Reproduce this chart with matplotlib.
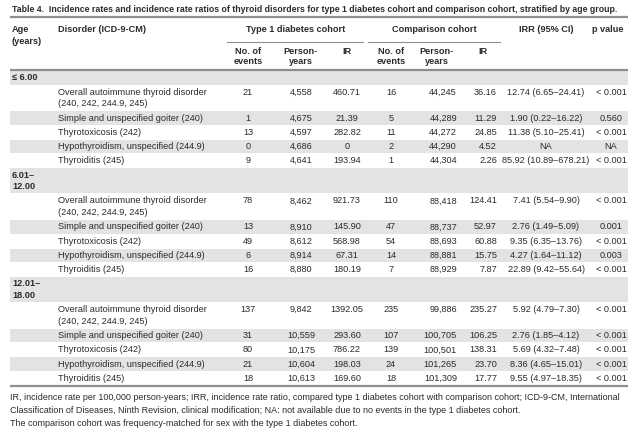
import matplotlib
matplotlib.use("Agg")
import matplotlib.pyplot as plt
from matplotlib.patches import Rectangle

INK = "#2b2b2b"; SHADE = "#e3e3e3"; RULE = "#8e8e8e"
FONT = "Liberation Sans"

age_groups = [["\u2264 6.00"], ["6.01\u2013", "12.00"], ["12.01\u2013", "18.00"]]
disorders = [["Overall autoimmune thyroid disorder", "(240, 242, 244.9, 245)"],
             ["Simple and unspecified goiter (240)"],
             ["Thyrotoxicosis (242)"],
             ["Hypothyroidism, unspecified (244.9)"],
             ["Thyroiditis (245)"]]

# type 1 diabetes cohort
t1_events = [[21, 1, 13, 0, 9], [78, 13, 49, 6, 16], [137, 31, 80, 21, 18]]
t1_py = [[4558, 4675, 4597, 4686, 4641], [8462, 8910, 8612, 8914, 8880],
         [9842, 10559, 10175, 10604, 10613]]
t1_ir = [[460.71, 21.39, 282.82, 0, 193.94], [921.73, 145.90, 568.98, 67.31, 180.19],
         [1392.05, 293.60, 786.22, 198.03, 169.60]]
# comparison cohort
cc_events = [[16, 5, 11, 2, 1], [110, 47, 54, 14, 7], [235, 107, 139, 24, 18]]
cc_py = [[44245, 44289, 44272, 44290, 44304], [88418, 88737, 88693, 88881, 88929],
         [99886, 100705, 100501, 101265, 101309]]
cc_ir = [[36.16, 11.29, 24.85, 4.52, 2.26], [124.41, 52.97, 60.88, 15.75, 7.87],
         [235.27, 106.25, 138.31, 23.70, 17.77]]
irr = [[(12.74, 6.65, 24.41), (1.90, 0.22, 16.22), (11.38, 5.10, 25.41), None, (85.92, 10.89, 678.21)],
       [(7.41, 5.54, 9.90), (2.76, 1.49, 5.09), (9.35, 6.35, 13.76), (4.27, 1.64, 11.12), (22.89, 9.42, 55.64)],
       [(5.92, 4.79, 7.30), (2.76, 1.85, 4.12), (5.69, 4.32, 7.48), (8.36, 4.65, 15.01), (9.55, 4.97, 18.35)]]
pvals = [["< 0.001", "0.560", "< 0.001", "NA", "< 0.001"],
         ["< 0.001", "0.001", "< 0.001", "0.003", "< 0.001"],
         ["< 0.001", "< 0.001", "< 0.001", "< 0.001", "< 0.001"]]

title = ("Table 4.  Incidence rates and incidence rate ratios of thyroid disorders for type 1 diabetes "
         "cohort and comparison cohort, stratified by age group.")
notes = ["IR, incidence rate per 100,000 person-years; IRR, incidence rate ratio, compared type 1 diabetes "
         "cohort with comparison cohort; ICD-9-CM, International",
         "Classification of Diseases, Ninth Revision, clinical modification; NA: not available due to no "
         "events in the type 1 diabetes cohort.",
         "The comparison cohort was frequency-matched for sex with the type 1 diabetes cohort."]

fig = plt.figure(figsize=(6.34, 4.29), dpi=100)
ax = fig.add_axes([0, 0, 1, 1]); ax.axis("off")
ax.set_xlim(0, 634); ax.set_ylim(429, 0)
FS = 6.6

def t(x, y, s, ha="center", bold=False, size=FS, color=INK):
    ax.text(x, y, s, ha=ha, va="center", fontsize=size, color=color, family=FONT,
            fontweight="bold" if bold else "normal")

L, R = 10, 628
t(12, 9.5, title, ha="left", bold=True, size=6.35)
ax.plot([L, R], [16.5, 16.5], color=RULE, lw=1.6, solid_capstyle="butt")

# header
t(12, 29, "Age", ha="left", bold=True); t(12, 41, "(years)", ha="left", bold=True)
t(58, 29, "Disorder (ICD-9-CM)", ha="left", bold=True)
t(296, 29, "Type 1 diabetes cohort", bold=True)
t(434, 29, "Comparison cohort", bold=True)
t(546, 29, "IRR (95% CI)", bold=True)
t(608, 29, "p value", bold=True)
ax.plot([227, 363], [42, 42], color=RULE, lw=0.8)
ax.plot([368, 500], [42, 42], color=RULE, lw=0.8)
X_E1, X_P1, X_I1, X_E2, X_P2, X_I2, X_RR, X_PV = 248, 301, 347, 391, 457, 497, 546, 611
for xe, xp in [(X_E1, X_P1), (X_E2, 437)]:
    t(xe, 51, "No. of", bold=True); t(xe, 62, "events", bold=True)
    t(xp, 51, "Person-", bold=True); t(xp, 62, "years", bold=True)
t(X_I1, 51, "IR", bold=True); t(483, 51, "IR", bold=True)
ax.plot([L, R], [70, 70], color=RULE, lw=1.6, solid_capstyle="butt")

h1, h2 = 14.2, 26.0
y = 70.8
for g, age in enumerate(age_groups):
    hh = h1 if len(age) == 1 else h2
    ax.add_patch(Rectangle((L, y + 0.4), R - L, hh - 0.8, color=SHADE, lw=0))
    for k, s in enumerate(age):
        t(12, y + hh / 2 + (k - (len(age) - 1) / 2) * 11.5, s, ha="left", bold=True)
    y += hh
    for i, dis in enumerate(disorders):
        hh = h1 if len(dis) == 1 else h2
        if i in (1, 3):
            ax.add_patch(Rectangle((L, y + 0.4), R - L, hh - 0.8, color=SHADE, lw=0))
        ty = y + (7.2 if len(dis) == 2 else hh / 2)
        for k, s in enumerate(dis):
            t(58, ty + k * 11.5, s, ha="left")
        ir1 = t1_ir[g][i]
        rr = irr[g][i]
        t(X_E1, ty, str(t1_events[g][i]))
        t(X_P1, ty, f"{t1_py[g][i]:,}")
        t(X_I1, ty, "0" if ir1 == 0 else f"{ir1:.2f}")
        t(X_E2, ty, str(cc_events[g][i]))
        t(X_P2, ty, f"{cc_py[g][i]:,}", ha="right")
        t(X_I2, ty, f"{cc_ir[g][i]:.2f}", ha="right")
        t(X_RR, ty, "NA" if rr is None else f"{rr[0]:.2f} ({rr[1]:.2f}\u2013{rr[2]:.2f})")
        t(X_PV, ty, pvals[g][i])
        y += hh

ax.plot([L, R], [y + 0.6, y + 0.6], color=RULE, lw=1.6, solid_capstyle="butt")
for k, s in enumerate(notes):
    t(10, 398 + k * 12.8, s, ha="left", size=6.5)

fig.savefig("out.png", dpi=100, facecolor="white")
